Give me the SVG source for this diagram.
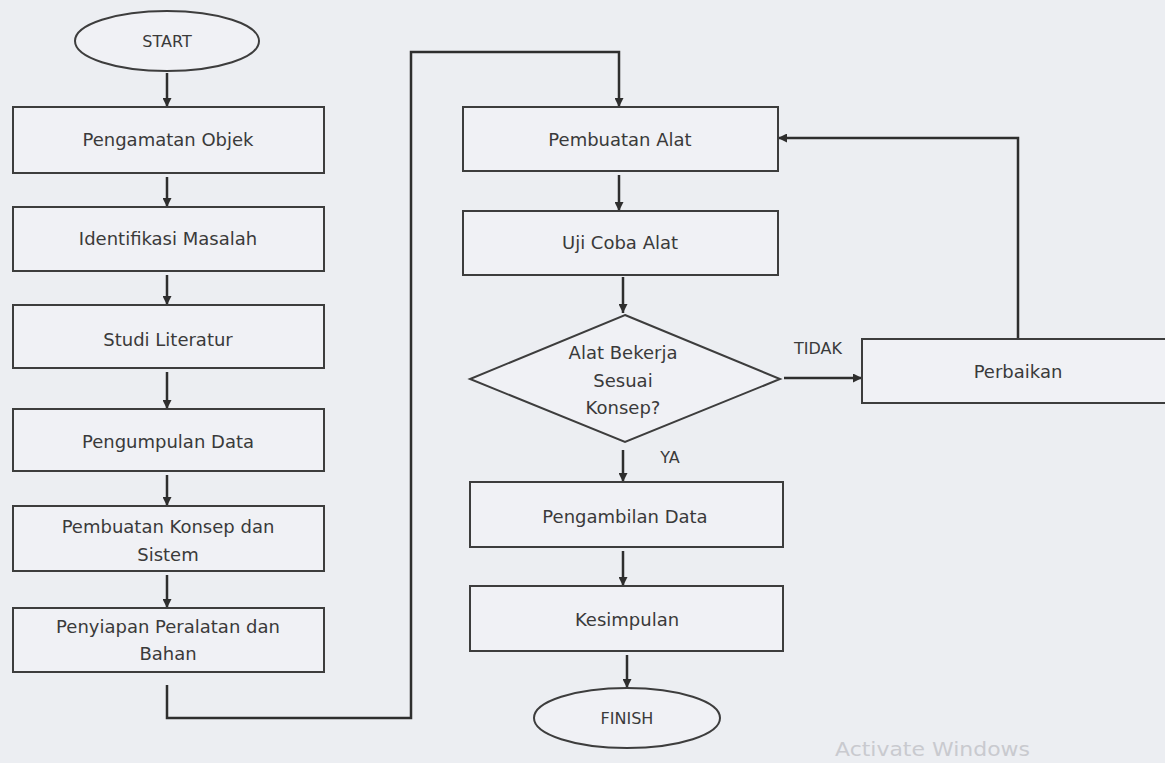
<svg xmlns="http://www.w3.org/2000/svg" width="1165" height="763" viewBox="0 0 1165 763">
<defs>
<marker id="ah" viewBox="0 0 10 10" refX="10" refY="5" markerWidth="9" markerHeight="9" markerUnits="userSpaceOnUse" orient="auto">
<path d="M0,0 L10,5 L0,10 z" fill="#2e2e2e"/>
</marker>
<style>
.bx{fill:#f0f1f5;stroke:#3d3d3d;stroke-width:2}
.t{font-family:"DejaVu Sans",sans-serif;font-size:18px;fill:#3a3a3a;text-anchor:middle}
.s{font-family:"DejaVu Sans",sans-serif;font-size:16px;fill:#3a3a3a;text-anchor:middle}
.c{fill:none;stroke:#2e2e2e;stroke-width:2.5}
.a{marker-end:url(#ah)}
</style>
</defs>
<rect x="0" y="0" width="1165" height="763" fill="#eceef2"/>
<g id="connectors">
<line class="c a" x1="167" y1="73" x2="167" y2="107"/>
<line class="c a" x1="167" y1="177" x2="167" y2="207"/>
<line class="c a" x1="167" y1="275" x2="167" y2="305"/>
<line class="c a" x1="167" y1="372" x2="167" y2="409"/>
<line class="c a" x1="167" y1="475" x2="167" y2="506"/>
<line class="c a" x1="167" y1="575" x2="167" y2="608"/>
<path class="c a" d="M167,685 V718 H411 V52 H619 V107"/>
<line class="c a" x1="619" y1="175" x2="619" y2="211"/>
<line class="c a" x1="623" y1="277" x2="623" y2="313"/>
<line class="c a" x1="623" y1="450" x2="623" y2="482"/>
<line class="c a" x1="623" y1="551" x2="623" y2="586"/>
<line class="c a" x1="627" y1="655" x2="627" y2="688"/>
<line class="c a" x1="784" y1="378" x2="862" y2="378"/>
<path class="c a" d="M1018,339 V138 H778"/>
</g>
<g id="start"><ellipse cx="167" cy="41" rx="92" ry="30" class="bx"/><text class="s" x="167" y="47">START</text></g>
<g id="pengamatan"><rect class="bx" x="13" y="107" width="311" height="66"/><text class="t" x="168" y="146">Pengamatan Objek</text></g>
<g id="identifikasi"><rect class="bx" x="13" y="207" width="311" height="64"/><text class="t" x="168" y="245">Identifikasi Masalah</text></g>
<g id="studi"><rect class="bx" x="13" y="305" width="311" height="63"/><text class="t" x="168" y="346">Studi Literatur</text></g>
<g id="pengumpulan"><rect class="bx" x="13" y="409" width="311" height="62"/><text class="t" x="168" y="448">Pengumpulan Data</text></g>
<g id="konsep"><rect class="bx" x="13" y="506" width="311" height="65"/><text class="t" x="168" y="533">Pembuatan Konsep dan</text><text class="t" x="168" y="561">Sistem</text></g>
<g id="penyiapan"><rect class="bx" x="13" y="608" width="311" height="64"/><text class="t" x="168" y="633">Penyiapan Peralatan dan</text><text class="t" x="168" y="660">Bahan</text></g>
<g id="pembuatan-alat"><rect class="bx" x="463" y="107" width="315" height="64"/><text class="t" x="620" y="146">Pembuatan Alat</text></g>
<g id="uji"><rect class="bx" x="463" y="211" width="315" height="64"/><text class="t" x="620" y="249">Uji Coba Alat</text></g>
<g id="decision"><polygon class="bx" points="625,315 780,379 625,442 470,379"/><text class="t" x="623" y="359">Alat Bekerja</text><text class="t" x="623" y="387">Sesuai</text><text class="t" x="623" y="414">Konsep?</text></g>
<g id="perbaikan"><rect class="bx" x="862" y="339" width="310" height="64"/><text class="t" x="1018" y="378">Perbaikan</text></g>
<g id="pengambilan"><rect class="bx" x="470" y="482" width="313" height="65"/><text class="t" x="625" y="523">Pengambilan Data</text></g>
<g id="kesimpulan"><rect class="bx" x="470" y="586" width="313" height="65"/><text class="t" x="627" y="626">Kesimpulan</text></g>
<g id="finish"><ellipse cx="627" cy="718" rx="93" ry="30" class="bx"/><text class="s" x="627" y="724">FINISH</text></g>
<g id="labels">
<text class="s" x="818" y="354">TIDAK</text>
<text class="s" x="670" y="463">YA</text>
</g>
<text x="835" y="756" font-family="DejaVu Sans, sans-serif" font-size="20" fill="#c9cacf" textLength="195" lengthAdjust="spacingAndGlyphs">Activate Windows</text>
</svg>
